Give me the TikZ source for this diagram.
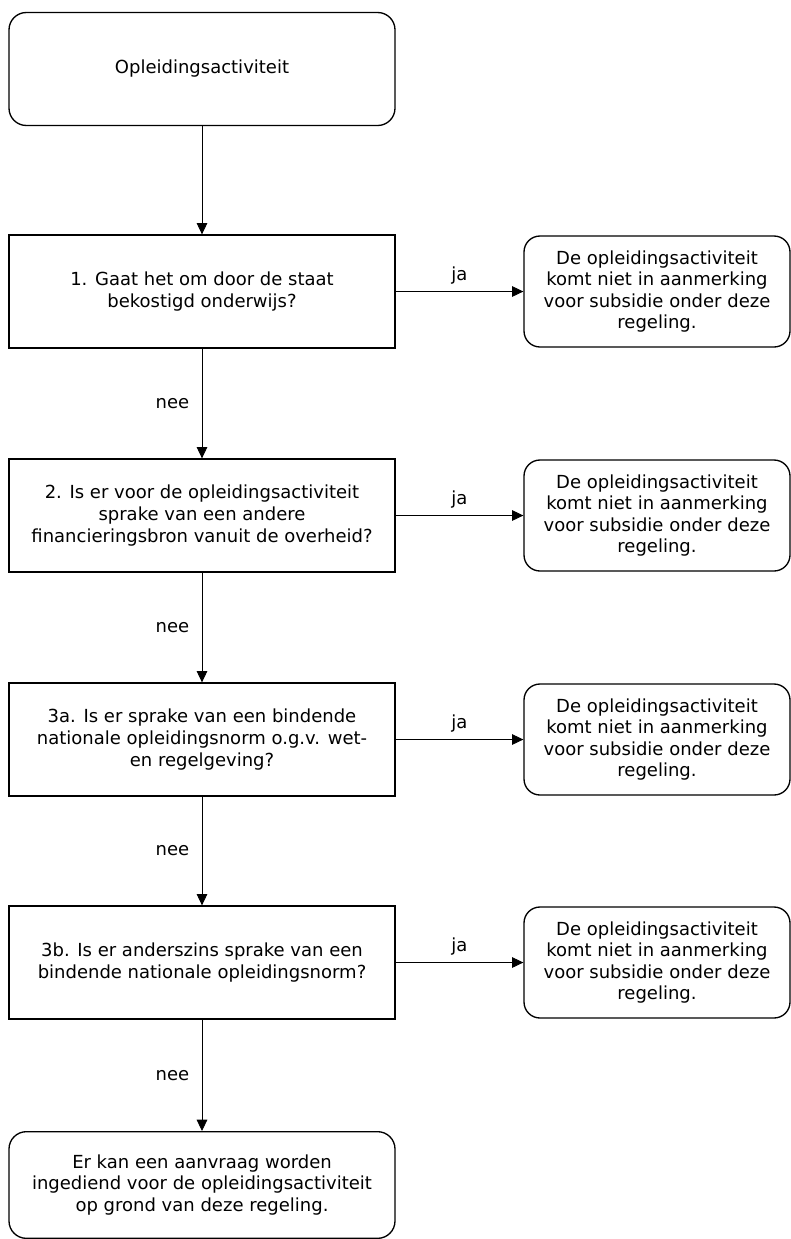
\documentclass[tikz,border=0pt]{standalone}
\usepackage{fontspec}
\setmainfont{DejaVu Sans}
\usetikzlibrary{arrows.meta,positioning}

\begin{document}
\begin{tikzpicture}[x=0.75pt, y=-0.75pt,
    >={Triangle[width=8pt,length=8.5pt]},
    every node/.style={font=\fontsize{13.5pt}{16.2pt}\selectfont, align=center},
    vraag/.style={draw, line width=1pt, minimum width=289.5pt, minimum height=84.75pt},
    eind/.style={draw, line width=1pt, rounded corners=13pt, minimum width=289.5pt, minimum height=84.75pt},
    nietbox/.style={draw, line width=1pt, rounded corners=12pt, minimum width=199.5pt, minimum height=83.25pt},
    verbinding/.style={->, line width=0.6pt},
    ja/.style={midway, above=2pt},
    nee/.style={midway, left=6pt}]
    \useasboundingbox (0,0) rectangle (791,1239);

    % Begin
    \node[eind] (start) at (202,69) {Opleidingsactiviteit};

    % Vragen
    \node[vraag] (q1) at (202,291.5) {1. Gaat het om door de staat\\bekostigd onderwijs?};
    \node[vraag] (q2) at (202,515.5) {2. Is er voor de opleidingsactiviteit\\sprake van een andere\\financieringsbron vanuit de overheid?};
    \node[vraag] (q3) at (202,739.5) {3a. Is er sprake van een bindende\\nationale opleidingsnorm o.g.v. wet-\\en regelgeving?};
    \node[vraag] (q4) at (202,962.5) {3b. Is er anderszins sprake van een\\bindende nationale opleidingsnorm?};

    % Geen subsidie
    \node[nietbox] (r1) at (657,291.5) {De opleidingsactiviteit\\komt niet in aanmerking\\voor subsidie onder deze\\regeling.};
    \node[nietbox] (r2) at (657,515.5) {De opleidingsactiviteit\\komt niet in aanmerking\\voor subsidie onder deze\\regeling.};
    \node[nietbox] (r3) at (657,739.5) {De opleidingsactiviteit\\komt niet in aanmerking\\voor subsidie onder deze\\regeling.};
    \node[nietbox] (r4) at (657,962.5) {De opleidingsactiviteit\\komt niet in aanmerking\\voor subsidie onder deze\\regeling.};

    % Aanvraag mogelijk
    \node[eind, minimum height=80pt] (aanvraag) at (202,1185) {Er kan een aanvraag worden\\ingediend voor de opleidingsactiviteit\\op grond van deze regeling.};

    % Pijlen omlaag
    \draw[verbinding] (start) -- (q1);
    \draw[verbinding] (q1) -- node[nee] {nee} (q2);
    \draw[verbinding] (q2) -- node[nee] {nee} (q3);
    \draw[verbinding] (q3) -- node[nee] {nee} (q4);
    \draw[verbinding] (q4) -- node[nee] {nee} (aanvraag);

    % Pijlen naar rechts
    \draw[verbinding] (q1) -- node[ja] {ja} (r1);
    \draw[verbinding] (q2) -- node[ja] {ja} (r2);
    \draw[verbinding] (q3) -- node[ja] {ja} (r3);
    \draw[verbinding] (q4) -- node[ja] {ja} (r4);
\end{tikzpicture}
\end{document}
